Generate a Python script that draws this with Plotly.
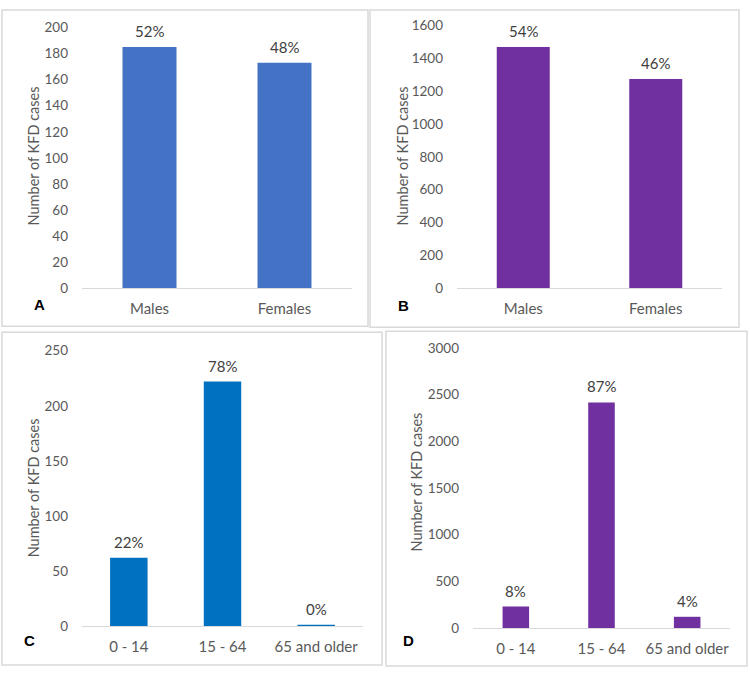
import plotly.graph_objects as go

W, H = 750, 677

# ---- data ----
sex_categories = ["Males", "Females"]
a_values = [185, 173]
a_labels = ["52%", "48%"]
b_values = [1470, 1275]
b_labels = ["54%", "46%"]

age_categories = ["0 - 14", "15 - 64", "65 and older"]
c_values = [62, 222, 1]
c_labels = ["22%", "78%", "0%"]
d_values = [230, 2415, 120]
d_labels = ["8%", "87%", "4%"]

a_ticks = list(range(0, 201, 20))
b_ticks = list(range(0, 1601, 200))
c_ticks = list(range(0, 251, 50))
d_ticks = list(range(0, 3001, 500))

y_title = "Number of KFD cases"

FONT = "Lato, 'Open Sans', sans-serif"
GREY = "#595959"
LINE = "#D9D9D9"


def px(x):
    return x / W


def py(y):
    return 1 - y / H


fig = go.Figure()

panels = [
    ("A", sex_categories, a_values, a_labels, "#4472C4", 0.4, (82, 352), (287, 20), a_ticks, ""),
    ("B", sex_categories, b_values, b_labels, "#7030A0", 0.4, (457, 722), (287, 18), b_ticks, "2"),
    ("C", age_categories, c_values, c_labels, "#0070C0", 0.4, (82, 363), (633, 351), c_ticks, "3"),
    ("D", age_categories, d_values, d_labels, "#7030A0", 0.31, (473, 730), (635, 348), d_ticks, "4"),
]

for name, cats, vals, labels, color, bw, xd, yd, ticks, suf in panels:
    fig.add_trace(go.Bar(
        x=cats, y=vals,
        marker=dict(color=color, line=dict(width=0)),
        width=bw, cliponaxis=False, showlegend=False,
        xaxis="x" + suf, yaxis="y" + suf,
    ))
    for c, v, t in zip(cats, vals, labels):
        fig.add_annotation(x=c, y=v, xref="x" + suf, yref="y" + suf,
                           text=t, showarrow=False, yanchor="bottom",
                           yshift=5,
                           font=dict(family=FONT, size=15, color="#404040"))
    fig.layout["xaxis" + suf] = dict(
        domain=[px(xd[0]), px(xd[1])], anchor="y" + suf,
        showline=True, linecolor=LINE, linewidth=1,
        showgrid=False, zeroline=False, ticks="",
        tickfont=dict(family=FONT, size=15, color=GREY),
        ticklabelstandoff=7,
        fixedrange=True,
    )
    fig.layout["yaxis" + suf] = dict(
        domain=[py(yd[0]), py(yd[1])], anchor="x" + suf,
        range=[ticks[0], ticks[-1]], tickvals=ticks,
        showline=False, showgrid=False, zeroline=False, ticks="",
        tickfont=dict(family=FONT, size=13.5, color=GREY),
        ticklabelstandoff=13,
        fixedrange=True,
    )

# y-axis titles
for (x, y) in [(33, 152), (402, 152), (33, 492), (417, 486)]:
    fig.add_annotation(x=px(x), y=py(y), xref="paper", yref="paper",
                       text=y_title, textangle=-90, showarrow=False,
                       font=dict(family=FONT, size=14.5, color=GREY),
                       xanchor="center", yanchor="middle")

# panel letters
for letter, (x, y) in zip("ABCD", [(39, 304), (403, 305), (29, 648), (408, 648)]):
    fig.add_annotation(x=px(x), y=py(y), xref="paper", yref="paper",
                       text="<b>%s</b>" % letter, showarrow=False,
                       font=dict(family="Liberation Sans, Arial, sans-serif", size=15, color="#000000"),
                       xanchor="center", yanchor="middle")

# panel borders
for (x0, y0, x1, y1) in [(2, 2, 368, 326), (370, 2, 739, 327), (2, 332, 382, 673), (386, 331, 747, 674)]:
    fig.add_shape(type="rect", xref="paper", yref="paper",
                  x0=px(x0), x1=px(x1), y0=py(y1), y1=py(y0),
                  line=dict(color=LINE, width=1.5), fillcolor="rgba(0,0,0,0)")

fig.update_layout(
    width=W, height=H,
    margin=dict(l=0, r=0, t=0, b=0),
    paper_bgcolor="white", plot_bgcolor="white",
    font=dict(family=FONT, color=GREY),
)

fig.write_html("out.html", config={"displayModeBar": False},
               post_script="document.body.style.margin='0';document.body.style.padding='0';")
